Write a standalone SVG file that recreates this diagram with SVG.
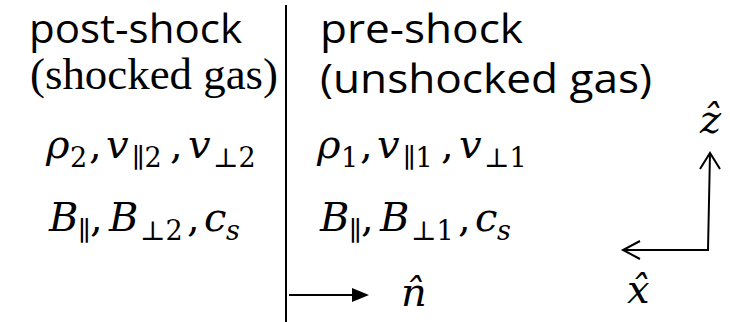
<svg xmlns="http://www.w3.org/2000/svg" width="730" height="322" viewBox="0 0 730 322">
<style>
.sans{font-family:"Open Sans","Liberation Sans",sans-serif;font-size:41px;fill:#000}
.serif{font-family:"Liberation Serif","Times New Roman",serif;font-size:44px;fill:#000}
.m{font-family:"DejaVu Serif",serif;font-style:italic;font-size:40px;fill:#000}
.mu{font-family:"DejaVu Serif",serif;font-size:40px;fill:#000}
.s{font-family:"DejaVu Serif",serif;font-size:27px;fill:#000}
.si{font-family:"DejaVu Serif",serif;font-style:italic;font-size:27px;fill:#000}
.ln{stroke:#000;stroke-width:2;fill:none}
</style>
<defs>
<marker id="tri" markerWidth="10" markerHeight="10" refX="9" refY="5" orient="auto" markerUnits="userSpaceOnUse" viewBox="0 0 10 10">
<path d="M0,0 L10,5 L0,10 Z" fill="#000"/>
</marker>
</defs>
<g id="connectors">
<line class="ln" x1="286" y1="5" x2="286" y2="322" stroke-width="1.5"/>
<line class="ln" x1="289" y1="295" x2="352" y2="295"/>
<path d="M352,288 L369,295 L352,302 Z" fill="#000"/>
<polyline class="ln" points="710,153 708,250 623,250"/>
<polyline class="ln" points="700,169 710,153 720,169"/>
<polyline class="ln" points="640,241 623,250 640,259"/>
</g>
<g id="post-shock">
<text class="sans" x="29" y="43" textLength="213" lengthAdjust="spacingAndGlyphs">post-shock</text>
<text class="serif" x="30" y="89" textLength="248" lengthAdjust="spacingAndGlyphs">(shocked gas)</text>
<text class="m" x="46" y="158">ρ</text>
<text class="s" x="70" y="167">2</text>
<text class="mu" x="89" y="158">,</text>
<text class="m" x="106" y="158">v</text>
<text class="s" x="132" y="167">∥2</text>
<text class="mu" x="170" y="158">,</text>
<text class="m" x="188" y="158">v</text>
<text class="s" x="213" y="167">⊥2</text>
<text class="m" x="49" y="231">B</text>
<text class="s" x="78" y="240">∥</text>
<text class="mu" x="90" y="231">,</text>
<text class="m" x="109" y="231">B</text>
<text class="s" x="140" y="240">⊥2</text>
<text class="mu" x="187" y="231">,</text>
<text class="m" x="204" y="231">c</text>
<text class="si" x="226" y="240">s</text>
</g>
<g id="pre-shock">
<text class="sans" x="320" y="43" textLength="203" lengthAdjust="spacingAndGlyphs">pre-shock</text>
<text class="sans" x="320" y="93" textLength="332" lengthAdjust="spacingAndGlyphs">(unshocked gas)</text>
<text class="m" x="317" y="158">ρ</text>
<text class="s" x="341" y="167">1</text>
<text class="mu" x="360" y="158">,</text>
<text class="m" x="377" y="158">v</text>
<text class="s" x="403" y="167">∥1</text>
<text class="mu" x="441" y="158">,</text>
<text class="m" x="459" y="158">v</text>
<text class="s" x="484" y="167">⊥1</text>
<text class="m" x="320" y="231">B</text>
<text class="s" x="349" y="240">∥</text>
<text class="mu" x="361" y="231">,</text>
<text class="m" x="380" y="231">B</text>
<text class="s" x="411" y="240">⊥1</text>
<text class="mu" x="458" y="231">,</text>
<text class="m" x="475" y="231">c</text>
<text class="si" x="497" y="240">s</text>
</g>
<g id="normal-label">
<text class="m" x="401" y="306">n̂</text>
</g>
<g id="axis-labels">
<text class="m" x="700" y="133" font-size="36">ẑ</text>
<text class="m" x="627" y="303" font-size="36">x̂</text>
</g>
</svg>
